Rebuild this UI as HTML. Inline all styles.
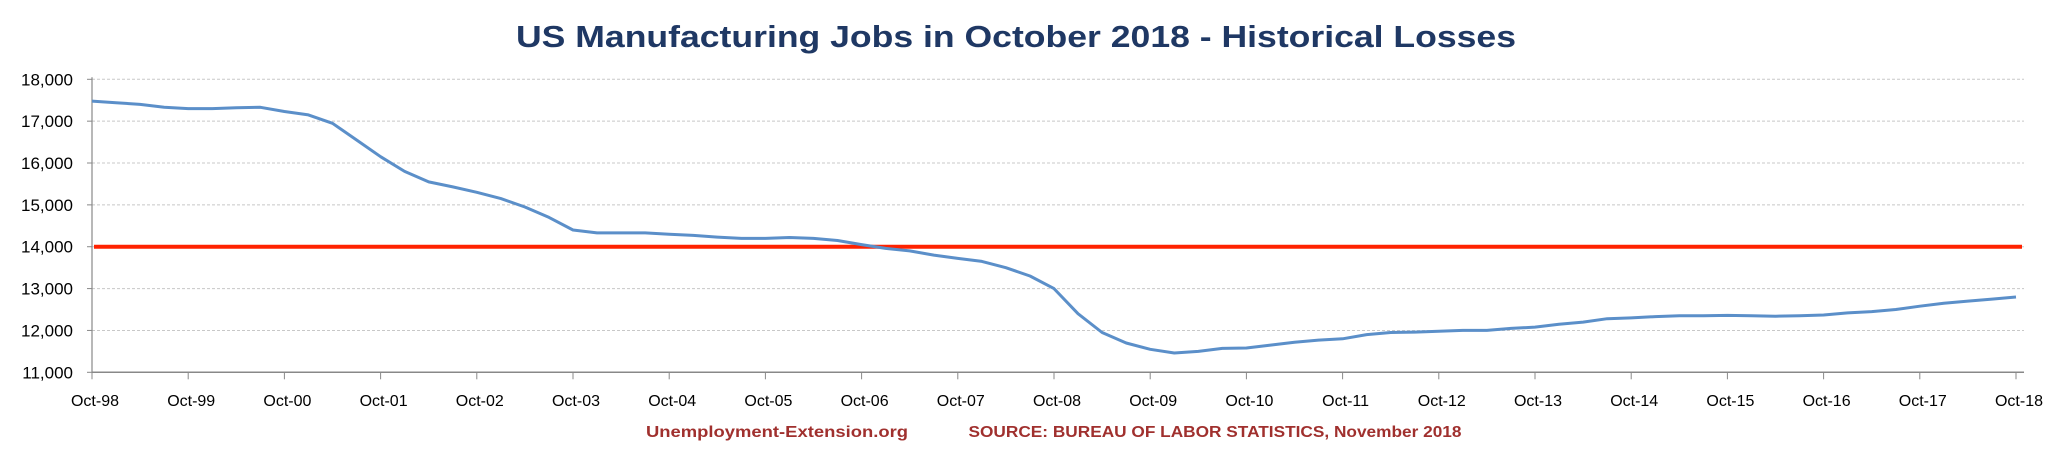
<!DOCTYPE html>
<html><head><meta charset="utf-8"><style>
html,body{margin:0;padding:0;background:#fff;}
svg{display:block;font-family:"Liberation Sans",sans-serif;}
</style></head><body>
<svg id="chart" width="2053" height="451" viewBox="0 0 2053 451">
<text x="1016" y="47" text-anchor="middle" font-size="31" font-weight="bold" fill="#1f3864" textLength="1000" lengthAdjust="spacingAndGlyphs">US Manufacturing Jobs in October 2018 - Historical Losses</text>
<g id="grid"></g>
<g id="yaxis"></g>
<g id="xaxis"></g>
<g id="series"></g>
<text x="777" y="437" text-anchor="middle" font-size="16" font-weight="bold" fill="#a0302e" textLength="262" lengthAdjust="spacingAndGlyphs">Unemployment-Extension.org</text>
<text x="1215" y="437" text-anchor="middle" font-size="16" font-weight="bold" fill="#a0302e" textLength="493" lengthAdjust="spacingAndGlyphs">SOURCE: BUREAU OF LABOR STATISTICS, November 2018</text>
</svg>
<script>
const xLabels=["Oct-98","Oct-99","Oct-00","Oct-01","Oct-02","Oct-03","Oct-04","Oct-05","Oct-06","Oct-07","Oct-08","Oct-09","Oct-10","Oct-11","Oct-12","Oct-13","Oct-14","Oct-15","Oct-16","Oct-17","Oct-18"];
const yTicks=[11000,12000,13000,14000,15000,16000,17000,18000];
const thresholdValue=14000;
// quarterly values (thousands of jobs), starting Oct-98
const jobs=[17480,17440,17400,17330,17300,17300,17320,17330,17230,17150,16950,16550,16150,15800,15550,15430,15300,15150,14950,14700,14400,14330,14330,14330,14300,14270,14230,14200,14200,14220,14200,14150,14050,13960,13900,13800,13720,13650,13500,13300,13000,12400,11950,11700,11550,11460,11500,11570,11580,11650,11720,11770,11800,11900,11950,11960,11980,12000,12000,12050,12080,12150,12200,12280,12300,12330,12350,12350,12360,12350,12340,12350,12370,12420,12450,12500,12580,12650,12700,12750,12800];

const NS="http://www.w3.org/2000/svg";
const X0=92,X1=2016,Y0=372.3,Y1=79.3,YMIN=11000,YMAX=18000,MONTHS=240;
const xMonth=m=>X0+(X1-X0)*m/MONTHS;
const yVal=v=>Y0-(Y0-Y1)*(v-YMIN)/(YMAX-YMIN);
function mk(tag,attrs,parent){const e=document.createElementNS(NS,tag);for(const k in attrs)e.setAttribute(k,attrs[k]);parent.appendChild(e);return e;}
const grid=document.getElementById('grid'),ya=document.getElementById('yaxis'),xa=document.getElementById('xaxis'),ser=document.getElementById('series');
yTicks.forEach(v=>{
  const y=yVal(v);
  if(v>YMIN){const g=mk('line',{x1:X0,x2:2024,y1:y,y2:y,stroke:'#c8c8c8','stroke-width':1,'stroke-dasharray':'3,2'},grid);
  
  }
  const t=mk('line',{x1:X0-5,x2:X0,y1:y,y2:y,stroke:'#888','stroke-width':1},ya);
  
  
  const l=mk('text',{x:X0-19,y:y+6,'text-anchor':'end','font-size':17,fill:'#000'},ya);
  l.textContent=v.toLocaleString('en-US');
  
  
});
const ax=mk('line',{x1:X0,x2:X0,y1:Y1-2,y2:Y0,stroke:'#888','stroke-width':1.2},ya);


const bx=mk('line',{x1:X0,x2:2024,y1:Y0,y2:Y0,stroke:'#888','stroke-width':1.5},xa);


xLabels.forEach((s,i)=>{
  const x=xMonth(i*12);
  const t=mk('line',{x1:x,x2:x,y1:Y0,y2:Y0+7,stroke:'#888','stroke-width':1},xa);
  
  
  const l=mk('text',{x:x+3,y:406,'text-anchor':'middle','font-size':16,fill:'#000'},xa);
  l.textContent=s;
  
  
});
const yt=yVal(thresholdValue);
const red=mk('line',{x1:X0+2,x2:2022,y1:yt,y2:yt,stroke:'#ff2200','stroke-width':4},ser);


const pts=jobs.map((v,i)=>xMonth(i*3).toFixed(1)+','+yVal(v).toFixed(1)).join(' ');
const pl=mk('polyline',{points:pts,fill:'none',stroke:'#5b8fc9','stroke-width':3,'stroke-linejoin':'round'},ser);


</script>
</body></html>
